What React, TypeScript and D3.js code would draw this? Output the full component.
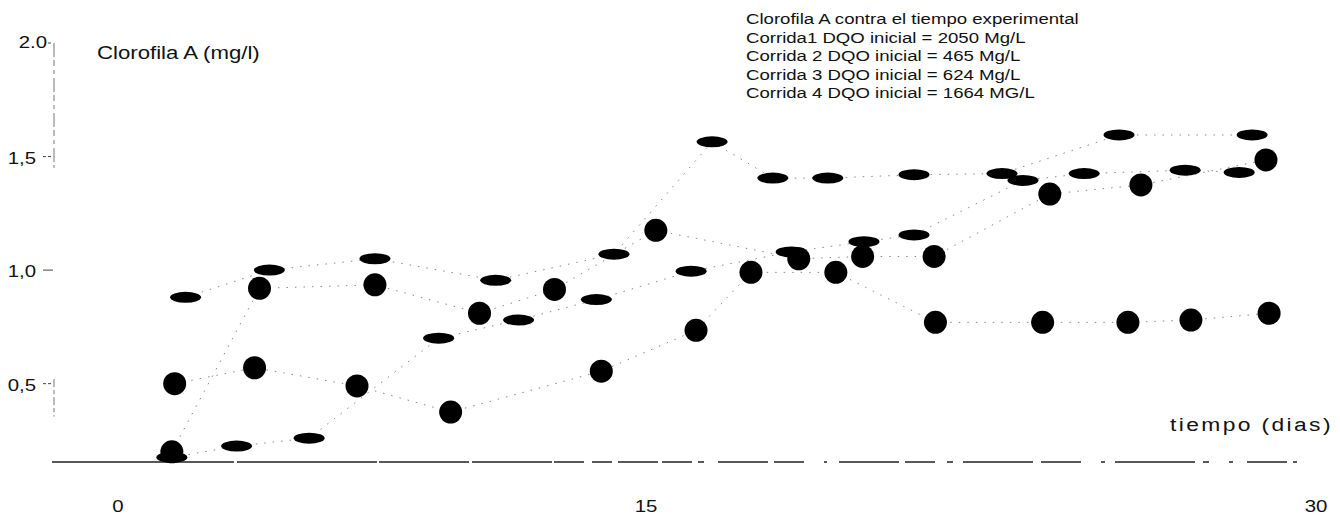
import React from "react";
import * as d3 from "d3";

const W = 1340;
const H = 518;

// Sampling days and chlorophyll A readings (mg/l) for each run
const corrida1Dias = [1.92, 4.3, 7.3, 10.73, 14.09, 16.48, 17.84, 19.07, 21.0, 22.97, 25.59, 28.57];
const corrida1Clorofila = [0.88, 1.0, 1.05, 0.955, 1.07, 1.565, 1.405, 1.405, 1.42, 1.425, 1.595, 1.595];

const corrida2Dias = [1.61, 3.88, 6.79, 9.45, 13.73, 16.12, 17.35, 19.25, 21.48, 23.88, 25.79, 27.2, 28.95];
const corrida2Clorofila = [0.5, 0.57, 0.49, 0.375, 0.555, 0.735, 0.99, 0.99, 0.77, 0.77, 0.77, 0.78, 0.81];

const corrida3Dias = [1.53, 4.02, 7.3, 10.27, 12.4, 15.22, 18.42, 19.85, 21.45, 24.04, 26.08, 28.88];
const corrida3Clorofila = [0.2, 0.92, 0.935, 0.81, 0.915, 1.175, 1.05, 1.06, 1.06, 1.335, 1.375, 1.485];

const corrida4Dias = [1.53, 3.37, 5.43, 9.11, 11.38, 13.59, 16.01, 18.25, 19.88, 21.0, 23.44, 24.81, 27.07, 28.28];
const corrida4Clorofila = [0.175, 0.225, 0.26, 0.7, 0.78, 0.87, 0.995, 1.08, 1.125, 1.155, 1.395, 1.425, 1.44, 1.43];

const yTickValues = [0.5, 1.0, 1.5, 2.0];
const yTickLabels = ["0,5", "1,0", "1,5", "2.0"];
const xTickValues = [0, 15, 30];
const xTickLabels = ["0", "15", "30"];

const legendLines = [
  "Clorofila A contra el tiempo experimental",
  "Corrida1 DQO inicial = 2050 Mg/L",
  "Corrida 2 DQO inicial = 465 Mg/L",
  "Corrida 3 DQO inicial = 624 Mg/L",
  "Corrida 4 DQO inicial = 1664 MG/L",
];

const yLabel = "Clorofila A (mg/l)";
const xLabel = "tiempo (dias)";

type Marker = "ellipse" | "circle";
const series: { dias: number[]; valores: number[]; marker: Marker }[] = [
  { dias: corrida1Dias, valores: corrida1Clorofila, marker: "ellipse" },
  { dias: corrida2Dias, valores: corrida2Clorofila, marker: "circle" },
  { dias: corrida3Dias, valores: corrida3Clorofila, marker: "circle" },
  { dias: corrida4Dias, valores: corrida4Clorofila, marker: "ellipse" },
];

const FONT = "'Liberation Sans', Arial, Helvetica, sans-serif";
const STRETCH = 1.2;

// broken print of the time axis: solid on the left, increasingly gappy to the right
const AXIS_DASH = [
  120, 2, 60, 3, 140, 2, 90, 3, 80, 2,
  30, 8, 20, 6, 40, 4, 30, 6,
  6, 14, 50, 6, 30, 20, 3, 12,
  60, 6, 30, 12, 6, 10,
  70, 8, 40, 20, 4, 10,
  80, 8, 6, 20, 4, 14, 40, 6, 4, 20,
].join(" ");

function SText(props: {
  x: number;
  y: number;
  size: number;
  anchor?: "start" | "middle" | "end";
  spacing?: number;
  children: React.ReactNode;
}) {
  const { x, y, size, anchor = "start", spacing = 0, children } = props;
  return (
    <text
      transform={`translate(${x},${y}) scale(${STRETCH},1)`}
      fontSize={size}
      fontFamily={FONT}
      textAnchor={anchor}
      letterSpacing={spacing}
      fill="#111"
    >
      {children}
    </text>
  );
}

export default function App() {
  const x = d3.scaleLinear().domain([0, 15, 30]).range([118, 646, 1316]);
  const yFloor = 0.155;
  const y = d3.scaleLinear().domain([yFloor, 2.0]).range([462, 43]);
  const axisX = 54;

  const line = d3
    .line<[number, number]>()
    .x((d) => x(d[0]))
    .y((d) => y(d[1]));

  return (
    <svg
      width={W}
      height={H}
      style={{ position: "absolute", left: 0, top: 0, background: "#fff" }}
    >
      <rect width={W} height={H} fill="#fff" />

      {/* vertical axis, faint and broken as printed */}
      <line x1={axisX} x2={axisX} y1={y(2.0)} y2={y(1.45)} stroke="#777" strokeWidth={1} strokeDasharray="14 3 6 4 4 4" />
      <line x1={axisX} x2={axisX} y1={y(0.52)} y2={y(0.355)} stroke="#777" strokeWidth={1} strokeDasharray="8 3 4 3" />

      {yTickValues.map((v, i) => (
        <g key={v}>
          <line
            x1={v === 2.0 ? 48 : 43}
            x2={axisX - 1}
            y1={y(v)}
            y2={y(v)}
            stroke="#444"
            strokeWidth={1}
            strokeDasharray={v === 1.0 ? undefined : "3 2"}
          />
          <SText x={v === 2.0 ? 47 : 36} y={v === 2.0 ? y(v) + 5 : y(v) + 7} size={17} anchor="end">
            {yTickLabels[i]}
          </SText>
        </g>
      ))}

      {/* horizontal axis */}
      <line
        x1={52}
        x2={1310}
        y1={y(yFloor)}
        y2={y(yFloor)}
        stroke="#222"
        strokeWidth={1.5}
        strokeDasharray={AXIS_DASH}
      />
      {xTickValues.map((v, i) => (
        <SText key={v} x={x(v)} y={512} size={17} anchor="middle">
          {xTickLabels[i]}
        </SText>
      ))}

      <SText x={97} y={59} size={18.5}>
        {yLabel}
      </SText>
      <SText x={1170} y={431} size={19} spacing={2}>
        {xLabel}
      </SText>

      {legendLines.map((t, i) => (
        <SText key={t} x={746} y={24 + i * 18.5} size={15.5}>
          {t}
        </SText>
      ))}

      {/* connecting lines */}
      {series.map((s, i) => (
        <path
          key={`l${i}`}
          d={line(s.dias.map((d, j) => [d, s.valores[j]] as [number, number])) || ""}
          fill="none"
          stroke="#888"
          strokeWidth={1}
          strokeDasharray="1.5 7"
        />
      ))}

      {/* markers */}
      {series.map((s, i) => (
        <g key={`m${i}`}>
          {s.dias.map((d, j) =>
            s.marker === "circle" ? (
              <circle key={j} cx={x(d)} cy={y(s.valores[j])} r={11.5} fill="#000" />
            ) : (
              <ellipse key={j} cx={x(d)} cy={y(s.valores[j])} rx={15.5} ry={5.5} fill="#000" />
            )
          )}
        </g>
      ))}
    </svg>
  );
}
